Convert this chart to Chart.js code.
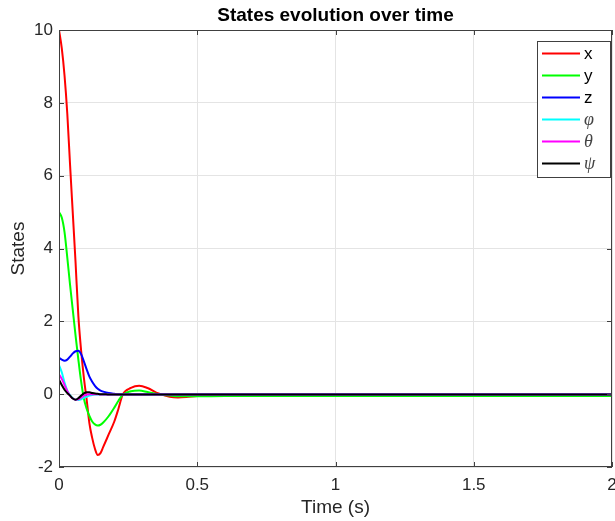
<!DOCTYPE html>
<html>
<head>
<meta charset="utf-8">
<title>States evolution over time</title>
<script src="https://cdn.jsdelivr.net/npm/chart.js@4.4.1/dist/chart.umd.min.js"></script>
<style>
  html, body { margin: 0; padding: 0; background: #ffffff; }
  #wrap { width: 615px; height: 521px; }
</style>
</head>
<body>
<div id="wrap"><canvas id="statesChart" width="615" height="521"></canvas></div>
<script>
// Simulation time samples (s), denser where the states move fast
const timeS = [0, 0.01, 0.02, 0.03, 0.04, 0.05, 0.06, 0.07, 0.08, 0.09, 0.10, 0.11, 0.12, 0.13, 0.14, 0.15, 0.16, 0.18, 0.20, 0.215, 0.23, 0.26, 0.29, 0.32, 0.36, 0.40, 0.43, 0.46, 0.50, 0.60, 0.80, 1.0, 1.5, 2.0];

// State trajectories at those times
const stateX = [10, 9.5, 8.75, 7.7, 6.3, 4.95, 3.6, 2.15, 1.2, 0.45, -0.15, -0.8, -1.2, -1.5, -1.67, -1.62, -1.45, -1.1, -0.75, -0.4, -0.02, 0.17, 0.23, 0.17, 0.02, -0.07, -0.09, -0.08, -0.05, -0.03, -0.02, -0.02, -0.02, -0.02];
const stateY = [5.0, 4.85, 4.45, 3.75, 3.0, 2.3, 1.6, 0.95, 0.35, -0.12, -0.4, -0.6, -0.75, -0.83, -0.86, -0.84, -0.78, -0.6, -0.37, -0.18, -0.02, 0.08, 0.1, 0.06, 0.0, -0.04, -0.06, -0.06, -0.06, -0.05, -0.05, -0.05, -0.05, -0.05];
const stateZ = [1.0, 0.95, 0.92, 0.95, 1.03, 1.12, 1.18, 1.19, 1.1, 0.9, 0.68, 0.48, 0.34, 0.23, 0.15, 0.1, 0.07, 0.03, 0.01, 0, 0, 0, 0, 0, 0, 0, 0, 0, 0, 0, 0, 0, 0, 0];
const statePhi = [0.8, 0.6, 0.32, 0.1, -0.03, -0.11, -0.15, -0.16, -0.14, -0.1, -0.07, -0.04, -0.02, -0.01, -0.01, -0.01, -0.01, -0.01, -0.01, -0.01, -0.01, -0.01, -0.01, -0.01, -0.01, -0.01, -0.01, -0.01, -0.01, -0.01, -0.01, -0.01, -0.01, -0.01];
const stateTheta = [0.55, 0.42, 0.25, 0.08, -0.05, -0.12, -0.15, -0.14, -0.09, -0.04, -0.01, 0, 0, 0, 0, -0.01, -0.01, -0.01, -0.01, -0.01, -0.01, -0.01, -0.01, -0.01, -0.01, -0.01, -0.01, -0.01, -0.01, -0.01, -0.01, -0.01, -0.01, -0.01];
const statePsi = [0.4, 0.25, 0.12, 0.03, -0.04, -0.12, -0.15, -0.11, -0.04, 0.02, 0.05, 0.05, 0.03, 0.02, 0.01, 0, 0, -0.01, -0.01, -0.01, -0.01, -0.01, -0.01, -0.01, -0.01, -0.01, -0.01, -0.01, -0.01, -0.01, -0.01, -0.01, -0.01, -0.01];

const seriesLabels = ['x', 'y', 'z', 'φ', 'θ', 'ψ'];
const seriesColors = ['#ff0000', '#00ff00', '#0000ff', '#00ffff', '#ff00ff', '#000000'];
const xTicks = [0, 0.5, 1, 1.5, 2];
const yTicks = [-2, 0, 2, 4, 6, 8, 10];

const axisColor = '#404040';
const textColor = '#262626';
const sansFont = '"Liberation Sans", Arial, Helvetica, sans-serif';

function toPoints(values) {
  return values.map((v, i) => ({ x: timeS[i], y: v }));
}

const allSeries = [stateX, stateY, stateZ, statePhi, stateTheta, statePsi];
const datasets = allSeries.map((vals, i) => ({
  label: seriesLabels[i],
  data: toPoints(vals),
  borderColor: seriesColors[i],
  backgroundColor: seriesColors[i],
  borderWidth: 2,
  pointRadius: 0,
  cubicInterpolationMode: 'monotone',
  // later states sit on top, like plotting them one after another
  order: allSeries.length - i
}));

// Box around the axes, inward tick marks, title and the legend box
const frame = {
  id: 'frame',
  afterDatasetsDraw(chart) {
    const { ctx, chartArea: a, scales } = chart;
    const tl = 5;
    ctx.save();
    ctx.strokeStyle = axisColor;
    ctx.lineWidth = 1;
    ctx.strokeRect(a.left + 0.5, a.top + 0.5, a.right - a.left - 1, a.bottom - a.top - 1);
    ctx.beginPath();
    xTicks.forEach(v => {
      const px = Math.round(scales.x.getPixelForValue(v)) + 0.5;
      ctx.moveTo(px, a.bottom); ctx.lineTo(px, a.bottom - tl);
      ctx.moveTo(px, a.top); ctx.lineTo(px, a.top + tl);
    });
    yTicks.forEach(v => {
      const py = Math.round(scales.y.getPixelForValue(v)) + 0.5;
      ctx.moveTo(a.left, py); ctx.lineTo(a.left + tl, py);
      ctx.moveTo(a.right, py); ctx.lineTo(a.right - tl, py);
    });
    ctx.stroke();

    // title
    ctx.fillStyle = '#000000';
    ctx.font = 'bold 19px ' + sansFont;
    ctx.textAlign = 'center';
    ctx.textBaseline = 'middle';
    ctx.fillText('States evolution over time', (a.left + a.right) / 2, 16);

    // legend
    const lx = 537, ly = 41, lw = 73, lh = 136;
    ctx.fillStyle = '#ffffff';
    ctx.fillRect(lx, ly, lw, lh);
    ctx.strokeStyle = axisColor;
    ctx.lineWidth = 1;
    ctx.strokeRect(lx + 0.5, ly + 0.5, lw, lh);
    chart.data.datasets.forEach((ds, i) => {
      const y = 53.5 + i * 22;
      ctx.strokeStyle = ds.borderColor;
      ctx.lineWidth = 2;
      ctx.beginPath();
      ctx.moveTo(542, y);
      ctx.lineTo(580, y);
      ctx.stroke();
      const greek = /[^\x00-\x7f]/.test(ds.label);
      ctx.font = greek ? 'italic 18px "Liberation Serif", "DejaVu Serif", serif' : '17px ' + sansFont;
      ctx.fillStyle = greek ? '#444444' : '#000000';
      ctx.textAlign = 'left';
      ctx.textBaseline = 'middle';
      ctx.fillText(ds.label, 584, y + 1);
    });
    ctx.restore();
  }
};

const ctx = document.getElementById('statesChart').getContext('2d');
new Chart(ctx, {
  type: 'line',
  data: { datasets: datasets },
  options: {
    responsive: false,
    animation: false,
    layout: { padding: { top: 30, right: 3, left: 0, bottom: 0 } },
    plugins: {
      legend: { display: false },
      tooltip: { enabled: false }
    },
    scales: {
      x: {
        type: 'linear',
        min: 0,
        max: 2,
        afterFit: scale => {
          scale.height = 54;
          // let the last tick label run off the edge instead of shrinking the plot
          scale.paddingLeft = 0;
          scale.paddingRight = 0;
        },
        afterBuildTicks: scale => { scale.ticks = xTicks.map(v => ({ value: v })); },
        grid: { color: '#e4e4e4', drawTicks: false },
        border: { display: false },
        ticks: {
          color: textColor,
          font: { family: sansFont, size: 17 },
          padding: 8,
          maxRotation: 0,
          callback: v => String(v)
        },
        title: {
          display: true,
          text: 'Time (s)',
          color: textColor,
          font: { family: sansFont, size: 19 },
          padding: { top: 0, bottom: 2 }
        }
      },
      y: {
        min: -2,
        max: 10,
        afterFit: scale => {
          scale.width = 59;
          scale.paddingTop = 0;
          scale.paddingBottom = 0;
        },
        afterBuildTicks: scale => { scale.ticks = yTicks.map(v => ({ value: v })); },
        grid: { color: '#e4e4e4', drawTicks: false },
        border: { display: false },
        ticks: {
          color: textColor,
          font: { family: sansFont, size: 17 },
          padding: 6,
          callback: v => String(v)
        },
        title: {
          display: true,
          text: 'States',
          color: textColor,
          font: { family: sansFont, size: 19 },
          padding: { top: 7, bottom: 0 }
        }
      }
    }
  },
  plugins: [frame]
});
</script>
</body>
</html>
